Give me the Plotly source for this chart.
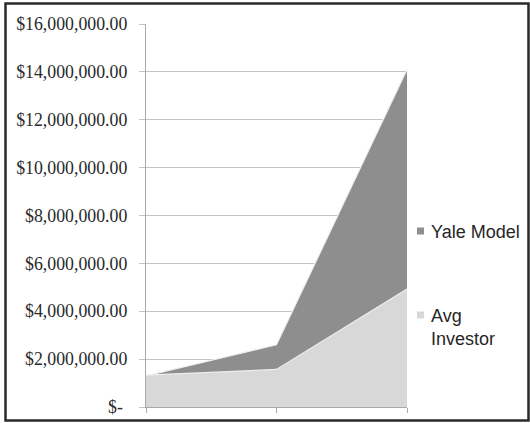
import plotly.graph_objects as go

# Portfolio value over three periods
periods = [1, 2, 3]
yale_model = [1_300_000, 2_600_000, 14_100_000]
avg_investor = [1_330_000, 1_570_000, 4_930_000]
series_names = ["Yale Model", "Avg Investor"]
series_colors = ["#8e8e8e", "#d8d8d8"]

y_tick_vals = [0, 2e6, 4e6, 6e6, 8e6, 10e6, 12e6, 14e6, 16e6]
y_tick_text = ["$- "] + [f"${v:,.2f}" for v in y_tick_vals[1:]]

W, H = 530, 423
plot_left, plot_right, plot_top, plot_bottom = 146, 407, 24, 407

fig = go.Figure()
for name, vals, color in zip(series_names, [yale_model, avg_investor], series_colors):
    fig.add_trace(go.Scatter(
        x=periods, y=vals, name=name, mode="lines",
        fill="tozeroy", fillcolor=color,
        line=dict(color="#eeeeee", width=1.2),
        showlegend=False, hoverinfo="skip",
    ))

grid = "#c4c4c4"
fig.update_xaxes(
    domain=[plot_left / W, plot_right / W], range=[periods[0], periods[-1]],
    tickvals=periods, showticklabels=False, ticks="outside", ticklen=5,
    tickcolor="#a8a8a8", showline=True, linecolor="#a8a8a8", linewidth=1.2,
    showgrid=False, zeroline=False, fixedrange=True,
)
fig.update_yaxes(
    domain=[(H - plot_bottom) / H, (H - plot_top) / H], range=[0, 16e6],
    tickvals=y_tick_vals, ticktext=y_tick_text, ticks="outside", ticklen=6,
    tickcolor=grid, showline=True, linecolor="#a8a8a8", linewidth=1.2,
    showgrid=True, gridcolor=grid, gridwidth=1.2, zeroline=False,
    ticklabelstandoff=8, automargin=False,
    tickfont=dict(family="Liberation Serif", size=17.8, color="#2a2a2a"),
)

# Legend: swatches and labels to the right of the plot
legend_font = dict(family="Liberation Sans", size=18, color="#262626")
legend_items = [(series_names[0], 231), ("Avg<br>Investor", 315)]
for (label, yc), color in zip(legend_items, series_colors):
    fig.add_shape(type="rect", xref="paper", yref="paper",
                  x0=417 / W, x1=424 / W,
                  y0=(H - yc - 3.5) / H, y1=(H - yc + 3.5) / H,
                  fillcolor=color, line=dict(width=0))
    fig.add_annotation(text=label, xref="paper", yref="paper",
                       x=429 / W, y=(H - yc + 11.5) / H,
                       xanchor="left", yanchor="top", align="left",
                       showarrow=False, font=legend_font)

# Outer frame
fig.add_shape(type="rect", xref="paper", yref="paper",
              x0=5.5 / W, x1=528.5 / W, y0=(H - 420.5) / H, y1=(H - 3.5) / H,
              line=dict(color="#2a2a2a", width=2.5), fillcolor="rgba(0,0,0,0)")

fig.update_layout(
    width=W, height=H, margin=dict(l=0, r=0, t=0, b=0),
    paper_bgcolor="white", plot_bgcolor="white", showlegend=False,
)
fig.write_html("out.html")
